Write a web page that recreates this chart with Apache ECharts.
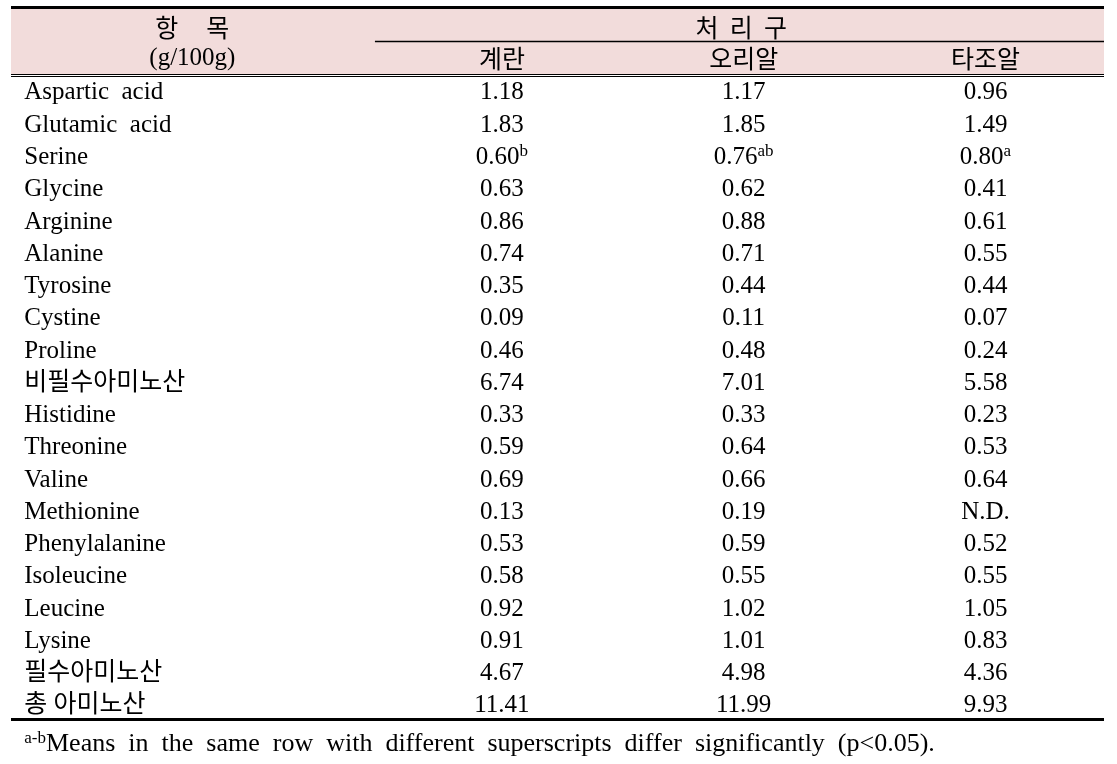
<!DOCTYPE html>
<html><head><meta charset="utf-8">
<script src="https://cdn.jsdelivr.net/npm/echarts@6/dist/echarts.min.js"></script>
<style>html,body{margin:0;padding:0;background:#fff}#c{width:1117px;height:764px}</style>
</head><body><div id="c"></div>
<script>
// ---------- data ----------
const rowLabels = ['Aspartic  acid','Glutamic  acid','Serine','Glycine','Arginine','Alanine','Tyrosine','Cystine','Proline','비필수아미노산','Histidine','Threonine','Valine','Methionine','Phenylalanine','Isoleucine','Leucine','Lysine','필수아미노산','총 아미노산'];
const itemTitle = ['항     목', '(g/100g)'];
const groupTitle = '처  리  구';
const columnNames = ['계란', '오리알', '타조알'];
const eggValues     = [1.18,1.83,0.60,0.63,0.86,0.74,0.35,0.09,0.46,6.74,0.33,0.59,0.69,0.13,0.53,0.58,0.92,0.91,4.67,11.41];
const duckValues    = [1.17,1.85,0.76,0.62,0.88,0.71,0.44,0.11,0.48,7.01,0.33,0.64,0.66,0.19,0.59,0.55,1.02,1.01,4.98,11.99];
const ostrichValues = [0.96,1.49,0.80,0.41,0.61,0.55,0.44,0.07,0.24,5.58,0.23,0.53,0.64,null,0.52,0.55,1.05,0.83,4.36,9.93];
const eggSup     = ['','','b','','','','','','','','','','','','','','','','',''];
const duckSup    = ['','','ab','','','','','','','','','','','','','','','','',''];
const ostrichSup = ['','','a','','','','','','','','','','','','','','','','',''];
const missingText = 'N.D.';
const footnoteSup = 'a-b';
const footnoteText = 'Means in the same row with different superscripts differ significantly (p<0.05).';

// ---------- layout ----------
const XMIN = -1.03, XMAX = 3.49, YMIN = -2.6, YMAX = 20.8;
const LABEL_X = -0.975, ITEM_X = -0.28, GROUP_X = 1.99, SUBLINE_X0 = 0.475;
const HEAD1 = -2.04, HEAD2 = -1.06, FOOT = 20.17;
const TEXT_DY = 4;
const TOPLINE = -2.53, SUBLINE = -1.48, DBL1 = -0.455, DBL2 = -0.385, BOTTOM = 19.55;
const PINK0 = -2.48, PINK1 = -0.455;
const SERIF = "'Liberation Serif','Noto Sans CJK KR'";
const KR = "'Noto Sans CJK KR'";

const RICH = {
  v:  {fontSize: 25, fontFamily: SERIF, fill: '#000', lineHeight: 28},
  k:  {fontSize: 25, fontFamily: KR, fill: '#000', lineHeight: 28},
  s:  {fontSize: 17, fontFamily: SERIF, fill: '#000', lineHeight: 21, verticalAlign: 'top'},
  f:  {fontSize: 26, fontFamily: SERIF, fill: '#000', lineHeight: 28},
  fs: {fontSize: 17, fontFamily: SERIF, fill: '#000', lineHeight: 21, verticalAlign: 'top'}
};

const cells = [];
function add(x, y, text, align) { cells.push({x, y, text, align}); }

add(ITEM_X, HEAD1, '{k|' + itemTitle[0] + '}', 'center');
add(ITEM_X, HEAD2, '{v|' + itemTitle[1] + '}', 'center');
add(GROUP_X, HEAD1, '{k|' + groupTitle + '}', 'center');
columnNames.forEach((n, i) => add(i + 1, HEAD2, '{k|' + n + '}', 'center'));

const cols = [[eggValues, eggSup], [duckValues, duckSup], [ostrichValues, ostrichSup]];
rowLabels.forEach((lab, r) => {
  add(LABEL_X, r, '{v|' + lab + '}', 'left');
  cols.forEach(([vals, sups], c) => {
    const v = vals[r];
    let t = '{v|' + (v == null ? missingText : v.toFixed(2)) + '}';
    if (sups[r]) t += '{s|' + sups[r] + '}';
    add(c + 1, r, t, 'center');
  });
});
add(LABEL_X, FOOT, '{fs|' + footnoteSup + '}{f|' + footnoteText.split(' ').join('\u00a0\u00a0') + '}', 'left');

function hline(x0, x1, y, w) {
  return [{coord: [x0, y], lineStyle: {width: w, color: '#000', type: 'solid'}}, {coord: [x1, y]}];
}

const chart = echarts.init(document.getElementById('c'), null, {renderer: 'canvas'});
chart.setOption({
  animation: false,
  backgroundColor: '#fff',
  grid: {left: 11, right: 13, top: 5, bottom: 4},
  xAxis: {type: 'value', min: XMIN, max: XMAX, show: false},
  yAxis: {type: 'value', min: YMIN, max: YMAX, inverse: true, show: false},
  series: [{
    type: 'custom',
    coordinateSystem: 'cartesian2d',
    silent: true,
    data: cells.map((c, i) => [c.x, c.y, i]),
    encode: {x: 0, y: 1},
    renderItem: function (params, api) {
      const c = cells[params.dataIndex];
      const p = api.coord([c.x, c.y]);
      return {
        type: 'text', x: p[0], y: p[1] + TEXT_DY, z2: 10,
        style: {text: c.text, rich: RICH, align: c.align, verticalAlign: 'middle', fill: '#000',
                fontSize: 25, fontFamily: SERIF}
      };
    },
    markArea: {
      silent: true,
      itemStyle: {color: '#f2dcdb', borderWidth: 0},
      data: [[{coord: [XMIN, PINK0]}, {coord: [XMAX, PINK1]}]]
    },
    markLine: {
      silent: true,
      symbol: ['none', 'none'],
      label: {show: false},
      data: [
        hline(XMIN, XMAX, TOPLINE, 3),
        hline(SUBLINE_X0, XMAX, SUBLINE, 1.3),
        hline(XMIN, XMAX, DBL1, 1.2),
        hline(XMIN, XMAX, DBL2, 1.2),
        hline(XMIN, XMAX, BOTTOM, 3)
      ]
    }
  }]
});
</script></body></html>
